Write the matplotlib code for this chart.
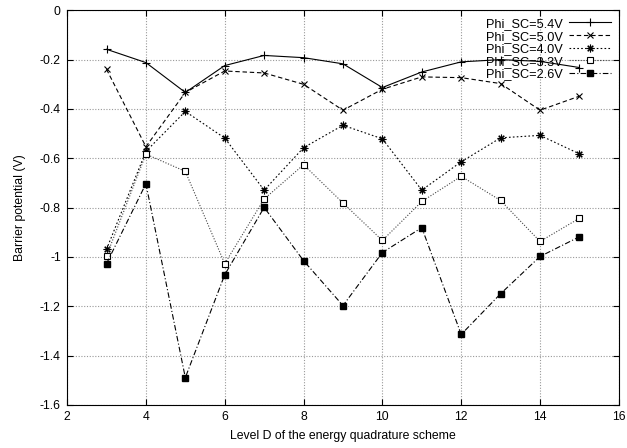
import matplotlib
matplotlib.use("Agg")
import matplotlib.pyplot as plt

levels = [3, 4, 5, 6, 7, 8, 9, 10, 11, 12, 13, 14, 15]
phi_54 = [-0.158, -0.212, -0.333, -0.224, -0.183, -0.192, -0.217, -0.313, -0.25, -0.209, -0.200, -0.207, -0.232]
phi_50 = [-0.239, -0.553, -0.333, -0.246, -0.254, -0.300, -0.405, -0.320, -0.270, -0.273, -0.297, -0.405, -0.348]
phi_40 = [-0.969, -0.572, -0.410, -0.518, -0.729, -0.557, -0.466, -0.521, -0.729, -0.614, -0.517, -0.507, -0.582]
phi_33 = [-0.996, -0.583, -0.653, -1.027, -0.765, -0.626, -0.781, -0.933, -0.775, -0.673, -0.771, -0.937, -0.843]
phi_26 = [-1.027, -0.703, -1.489, -1.072, -0.799, -1.015, -1.197, -0.982, -0.881, -1.314, -1.149, -0.998, -0.918]
labels = ["Phi_SC=5.4V", "Phi_SC=5.0V", "Phi_SC=4.0V", "Phi_SC=3.3V", "Phi_SC=2.6V"]

plt.rcParams['font.family'] = ['Liberation Sans', 'DejaVu Sans']

fig = plt.figure(figsize=(6.27, 4.48), dpi=100)
ax = fig.add_axes([0.107, 0.096, 0.880, 0.881])

lw = 0.8
ax.plot(levels, phi_54, color='black', lw=lw, ls='-', marker='+', ms=6, mew=0.8, label=labels[0])
ax.plot(levels, phi_50, color='black', lw=lw, ls=(0, (4, 2.5)), marker='x', ms=4.5, mew=0.8, label=labels[1])
ax.plot(levels, phi_40, color='black', lw=lw, ls=(0, (1.5, 2)), marker=(8, 2, 0), ms=5.5, mew=0.8, label=labels[2])
ax.plot(levels, phi_33, color='#444444', lw=lw, ls=(0, (1, 1.5)), marker='s', ms=4.3, mfc='white', mec='black', mew=0.8, label=labels[3])
ax.plot(levels, phi_26, color='black', lw=lw, ls=(0, (5, 2, 1, 2)), marker='s', ms=4.5, mfc='black', mec='black', label=labels[4])

ax.set_xlim(2, 16)
ax.set_ylim(-1.6, 0)
ax.set_xticks(range(2, 17, 2))
ax.set_yticks([-1.6, -1.4, -1.2, -1.0, -0.8, -0.6, -0.4, -0.2, 0])
ax.set_yticklabels(["-1.6", "-1.4", "-1.2", "-1", "-0.8", "-0.6", "-0.4", "-0.2", "0"])
ax.grid(True, color='#999999', ls=(0, (1, 1.5)), lw=0.8)
ax.tick_params(direction='in', top=True, right=True, labelsize=8.8, length=4, pad=4.5)
for s in ax.spines.values():
    s.set_linewidth(0.8)

ax.set_xlabel("Level D of the energy quadrature scheme", fontsize=8.8, labelpad=5)
ax.set_ylabel("Barrier potential (V)", fontsize=8.8, labelpad=10)

leg = ax.legend(loc='upper right', frameon=False, markerfirst=False, fontsize=9.2,
                handlelength=3.3, labelspacing=0.05, borderaxespad=0.3, borderpad=0.3,
                handletextpad=0.5)

fig.savefig("out.png", dpi=100)
